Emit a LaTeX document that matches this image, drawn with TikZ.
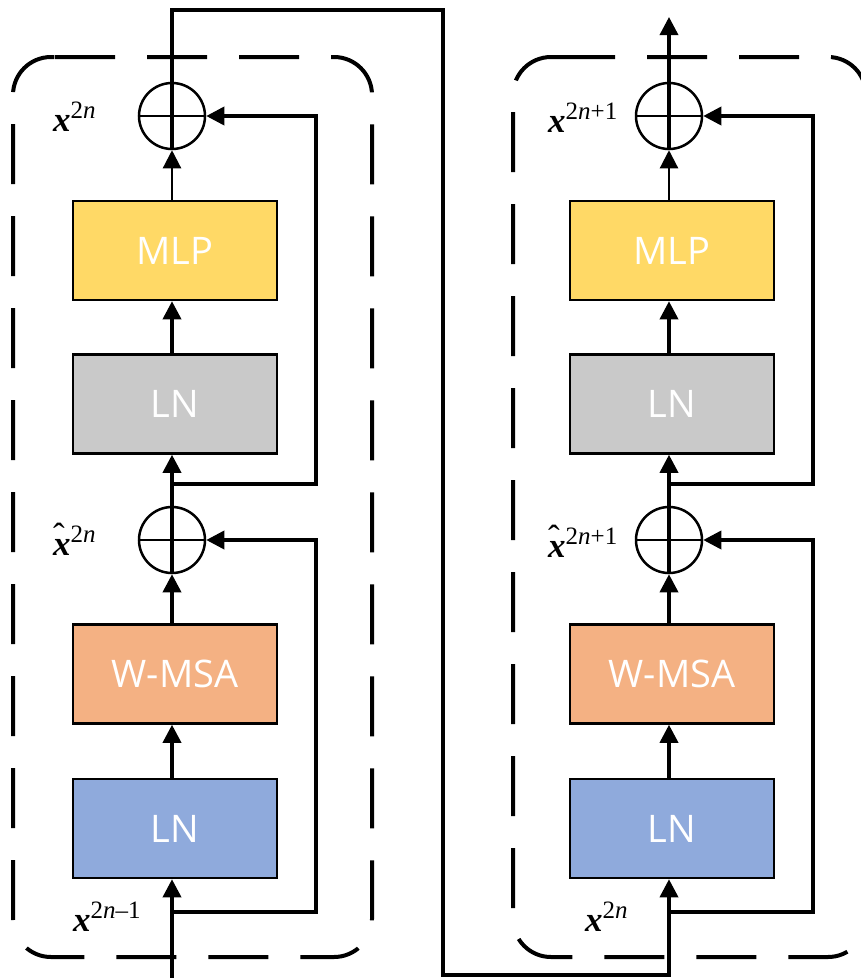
\documentclass[tikz,border=0pt]{standalone}
\usepackage{fontspec}
\setmainfont{Liberation Serif}
\newfontfamily\boxfont{Open Sans}
\usetikzlibrary{arrows.meta}
\definecolor{mlpc}{HTML}{FFD966}
\definecolor{lngray}{HTML}{C9C9C9}
\definecolor{msac}{HTML}{F4B183}
\definecolor{lnblue}{HTML}{8FAADC}
\newcommand\xsym[1]{{\fontsize{35}{35}\selectfont\bfseries\itshape x}{\fontsize{25}{25}\selectfont\raisebox{13pt}{#1}}}
\newcommand\hxsym[1]{{\fontsize{35}{35}\selectfont\rlap{\raisebox{8pt}{\kern0pt ˆ}}\bfseries\itshape x}{\fontsize{25}{25}\selectfont\raisebox{13pt}{#1}}}
\tikzset{
  blk/.style={draw=black, line width=2.5pt, minimum width=204pt, minimum height=99pt,
    inner sep=0pt, font=\boxfont\fontsize{38}{38}\selectfont, text=white},
  addc/.style={draw, circle, line width=2.5pt, minimum size=66pt, inner sep=0pt},
  flow/.style={line width=3.5pt, -{Triangle[length=18pt,width=18pt]}},
  thinflow/.style={line width=2.2pt, -{Triangle[length=18pt,width=18pt]}},
  plusbar/.style={line width=2.5pt},
  dashbox/.style={line width=4pt, dash pattern=on 60pt off 32pt, rounded corners=38pt},
  lab/.style={inner sep=0pt, anchor=base west}
}
\begin{document}
\begin{tikzpicture}[x=1pt,y=-1pt]
\clip (0,0) rectangle (861,978);
\useasboundingbox (0,0) rectangle (861,978);

% dashed blocks
\draw[dashbox] (55,57) -- (372,57) -- (372,957) -- (13,957) -- (13,57) -- (56,57);
\draw[dashbox] (555,57) -- (866,57) -- (866,957) -- (513,957) -- (513,57) -- (556,57);

% column axes
\coordinate (ax1) at (172,0);
\coordinate (ax2) at (669,0);

% left column
\node[blk, fill=mlpc]   (mlp1) at (175,250.5) {MLP};
\node[blk, fill=lngray] (lng1) at (175,404)   {LN};
\node[blk, fill=msac]   (msa1) at (175,674)   {W-MSA};
\node[blk, fill=lnblue] (lnb1) at (175,828.5) {LN};
\node[addc] (c1) at (172,116) {};
\node[addc] (c2) at (172,540) {};

% right column
\node[blk, fill=mlpc]   (mlp2) at (672,250.5) {MLP};
\node[blk, fill=lngray] (lng2) at (672,404)   {LN};
\node[blk, fill=msac]   (msa2) at (672,674)   {W-MSA};
\node[blk, fill=lnblue] (lnb2) at (672,828.5) {LN};
\node[addc] (c3) at (669,116) {};
\node[addc] (c4) at (669,540) {};

% plus bars
\foreach \c in {c1,c2,c3,c4}{\draw[plusbar] (\c.west) -- (\c.east);}

% coordinates for wires
\coordinate (in1) at (172,990);
\coordinate (j1) at (172,912);
\coordinate (s1a) at (316,912);
\coordinate (j2) at (172,484);
\coordinate (s1b) at (316,484);
\coordinate (tl) at (172,10);
\coordinate (tr) at (443,10);
\coordinate (br) at (443,975);
\coordinate (bl2) at (669,975);
\coordinate (j3) at (669,912);
\coordinate (s2a) at (813,912);
\coordinate (j4) at (669,484);
\coordinate (s2b) at (813,484);
\coordinate (out) at (669,17);

% left column flow
\draw[flow] (in1) -- (lnb1.south -| ax1);
\draw[flow] (j1) -- (s1a) -- (s1a |- c2) -- (c2.east);
\draw[flow] (lnb1.north -| ax1) -- (msa1.south -| ax1);
\draw[flow] (msa1.north -| ax1) -- (c2.south);
\draw[flow] (c2.south) -- (lng1.south -| ax1);
\draw[flow] (j2) -- (s1b) -- (s1b |- c1) -- (c1.east);
\draw[flow] (lng1.north -| ax1) -- (mlp1.south -| ax1);
\draw[thinflow] (mlp1.north -| ax1) -- (c1.south);

% connection between blocks
\draw[flow] (c1.south) -- (tl) -- (tr) -- (br) -- (bl2) -- (lnb2.south -| ax2);

% right column flow
\draw[flow] (j3) -- (s2a) -- (s2a |- c4) -- (c4.east);
\draw[flow] (lnb2.north -| ax2) -- (msa2.south -| ax2);
\draw[flow] (msa2.north -| ax2) -- (c4.south);
\draw[flow] (c4.south) -- (lng2.south -| ax2);
\draw[flow] (j4) -- (s2b) -- (s2b |- c3) -- (c3.east);
\draw[flow] (lng2.north -| ax2) -- (mlp2.south -| ax2);
\draw[thinflow] (mlp2.north -| ax2) -- (c3.south);
\draw[flow] (c3.south) -- (out);

% labels
\node[lab] (l1) at (53,131) {\xsym{2\textit{n}}};
\node[lab] (l2) at (53,555) {\hxsym{2\textit{n}}};
\node[lab] (l3) at (73,931) {\xsym{2\textit{n}–1}};
\node[lab] (l4) at (548,132) {\xsym{2\textit{n}+1}};
\node[lab] (l5) at (548,557) {\hxsym{2\textit{n}+1}};
\node[lab] (l6) at (585,931) {\xsym{2\textit{n}}};
\end{tikzpicture}
\end{document}
